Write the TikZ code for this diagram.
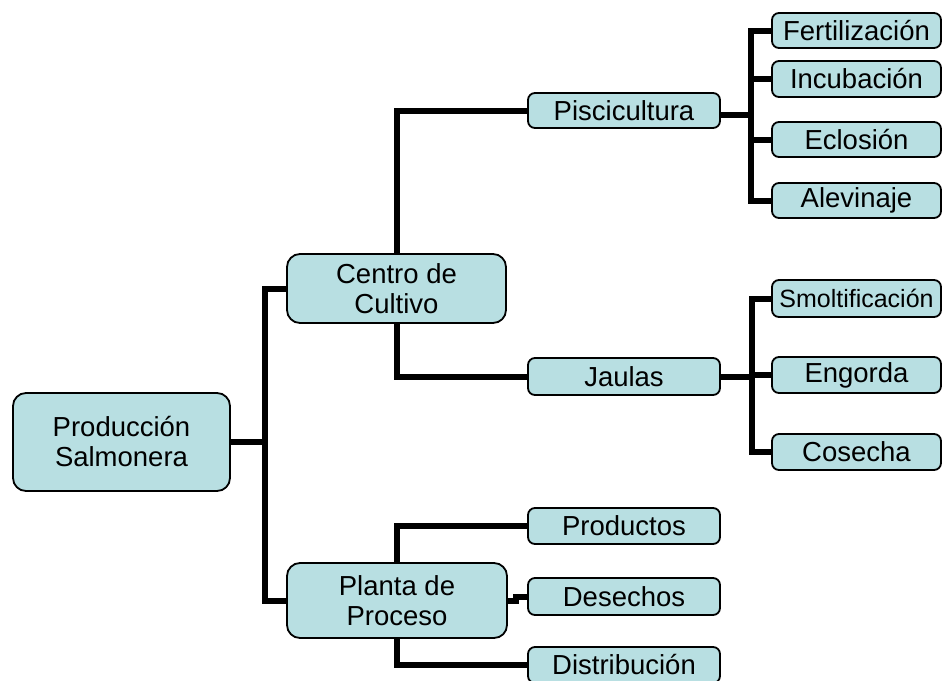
\documentclass[tikz,border=0pt]{standalone}
\usepackage{fontspec}
\setmainfont{Liberation Sans}
\usepackage{xcolor}
\definecolor{Pale Aqua}{HTML}{B8DFE2}
\colorlet{cBox}{Pale Aqua}
\usepackage{tikz}
\usetikzlibrary{calc, positioning}
\tikzset{
	x = 1pt,
	y = -1pt,
	box/.style={
		draw,
		fill=cBox,
		line width=1.8pt,
		rounded corners=7pt,
		align=center,
		inner sep=0pt,
		font=\fontsize{27.5}{30}\selectfont
	},
	bigbox/.style={
		box,
		rounded corners=13pt
	},
	link/.style={
		line width=6pt
	}
}
\begin{document}
\begin{tikzpicture}
		\useasboundingbox (0,0) rectangle (942,680);

		\node[bigbox, minimum width=217pt, minimum height=98pt] at (121.5,442) (root) {Producción\\Salmonera};
		\node[bigbox, minimum width=219pt, minimum height=69pt] at (396.5,288.5) (centro) {Centro de\\Cultivo};
		\node[bigbox, minimum width=220pt, minimum height=75pt] at (397,600.5) (planta) {Planta de\\Proceso};

		\node[box, minimum width=192pt, minimum height=35pt] at (624,110.5) (pisc) {Piscicultura};
		\node[box, minimum width=192pt, minimum height=37pt] at (624,376.5) (jaulas) {Jaulas};
		\node[box, minimum width=192pt, minimum height=36pt] at (624,526) (productos) {Productos};
		\node[box, minimum width=192pt, minimum height=37pt] at (624,596.5) (desechos) {Desechos};
		\node[box, minimum width=192pt, minimum height=36pt] at (624,665) (distrib) {Distribución};

		\node[box, minimum width=169pt, minimum height=35pt] at (856.5,30.5) (fert) {Fertilización};
		\node[box, minimum width=169pt, minimum height=36pt] at (856.5,79) (incub) {Incubación};
		\node[box, minimum width=169pt, minimum height=35pt] at (856.5,139.5) (eclos) {Eclosión};
		\node[box, minimum width=169pt, minimum height=35pt] at (856.5,200.5) (alev) {Alevinaje};
		\node[box, minimum width=169pt, minimum height=37pt, font=\fontsize{25}{28}\selectfont] at (856.5,298.5) (smolt) {Smoltificación};
		\node[box, minimum width=169pt, minimum height=36pt] at (856.5,375) (engorda) {Engorda};
		\node[box, minimum width=169pt, minimum height=36pt] at (856.5,452) (cosecha) {Cosecha};

		% buses
		\coordinate (rbus) at (265,442);
		\coordinate (pbus) at (751,115);
		\coordinate (jbus) at (752,377);

		\draw[link] (root.east) -- (rbus);
		\draw[link] (centro.west) -| (rbus) |- (planta.west);

		\draw[link] (centro.north) |- (pisc.west);
		\draw[link] (centro.south) |- (jaulas.west);

		\draw[link] (pisc.east |- pbus) -- (pbus);
		\draw[link] (fert.west) -| (pbus) |- (alev.west);
		\draw[link] (incub.west) -- (incub.west -| pbus);
		\draw[link] (eclos.west) -- (eclos.west -| pbus);

		\draw[link] (jaulas.east |- jbus) -- (jbus);
		\draw[link] (smolt.west) -| (jbus) |- (cosecha.west);
		\draw[link] (engorda.west) -- (engorda.west -| jbus);

		\draw[link] (planta.north) |- (productos.west);
		\draw[link] (planta.east) -- ++(8,0) |- (desechos.west);
		\draw[link] (planta.south) |- (distrib.west);
	\end{tikzpicture}
\end{document}
